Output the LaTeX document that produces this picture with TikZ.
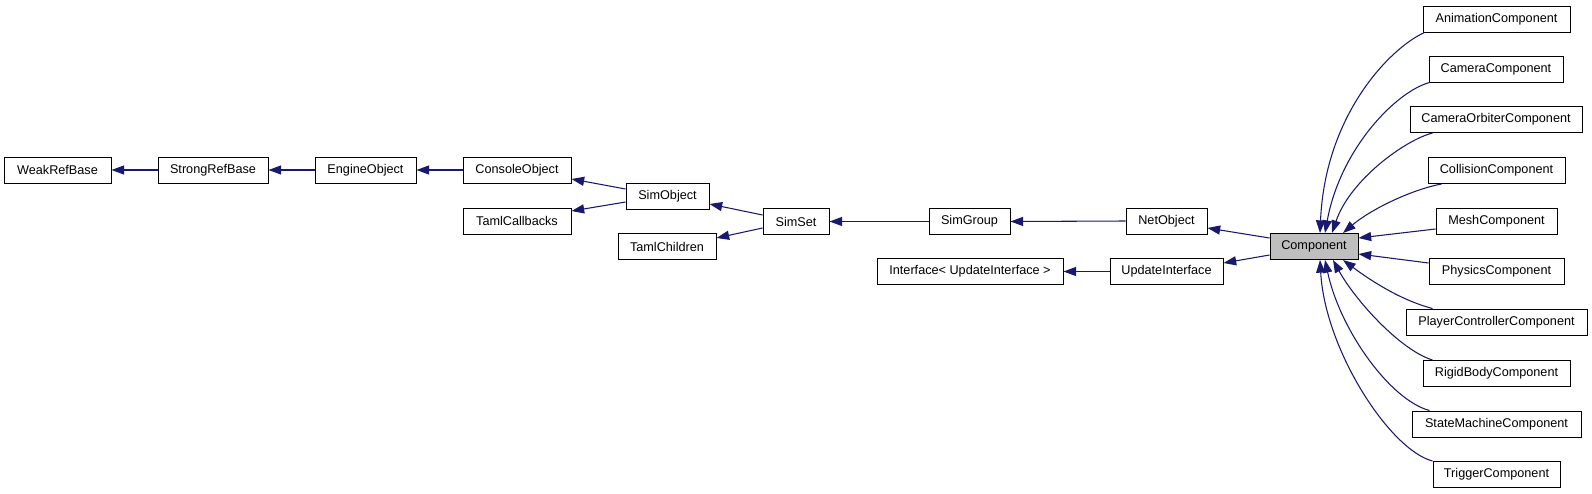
\documentclass[tikz,border=0pt]{standalone}
\usepackage{fontspec}
\setmainfont{Liberation Sans}
\usetikzlibrary{arrows.meta,calc}
\definecolor{edgeblue}{HTML}{191970}
\definecolor{compgray}{HTML}{BFBFBF}
\begin{document}
\begin{tikzpicture}[x=0.75pt,y=-0.75pt,
  cls/.style={draw=black, line width=0.75pt, fill=white, inner sep=0pt,
    minimum height=19.5pt, font=\fontsize{9.5}{11}\selectfont},
  wd/.style={minimum width=#1*0.75pt},
  inh/.style={draw=edgeblue, line width=0.8pt,
    {Triangle[length=9.5pt,width=6.8pt]}-}]
\useasboundingbox (0,0) rectangle (1592,493);

% left chain
\node[cls, wd=107] (weak)   at (57.5,170)  {WeakRefBase};
\node[cls, wd=110] (strong) at (213,170)   {StrongRefBase};
\node[cls, wd=101] (engine) at (365.5,170) {EngineObject};
\node[cls, wd=108] (console) at (517,170)  {ConsoleObject};
\node[cls, wd=108] (tamlcb) at (517,221)   {TamlCallbacks};
\node[cls, wd=83]  (simobj) at (667.5,196) {SimObject};
\node[cls, wd=98]  (tamlch) at (667,246.5) {TamlChildren};
\node[cls, wd=66]  (simset) at (796,221.5) {SimSet};
\node[cls, wd=81]  (simgroup) at (969.5,221.5) {SimGroup};
\node[cls, wd=186] (iface)  at (970,271.5) {Interface< UpdateInterface >};
\node[cls, wd=81]  (netobj) at (1166.5,221) {NetObject};
\node[cls, wd=113] (upd)    at (1166.5,271.5) {UpdateInterface};
\node[cls, wd=88, fill=compgray] (comp) at (1314,246.5) {Component};

% right column
\node[cls, wd=147] (anim)   at (1496.5,19)    {AnimationComponent};
\node[cls, wd=134] (cam)    at (1496,69)      {CameraComponent};
\node[cls, wd=172] (orb)    at (1496,119.5)   {CameraOrbiterComponent};
\node[cls, wd=137] (coll)   at (1496.5,170.5) {CollisionComponent};
\node[cls, wd=121] (mesh)   at (1496.5,221)   {MeshComponent};
\node[cls, wd=135] (phys)   at (1496.5,271.5) {PhysicsComponent};
\node[cls, wd=181] (player) at (1496.5,322)   {PlayerControllerComponent};
\node[cls, wd=147] (rigid)  at (1496.5,373.5) {RigidBodyComponent};
\node[cls, wd=169] (state)  at (1496.5,424)   {StateMachineComponent};
\node[cls, wd=127] (trig)   at (1496.5,474.5) {TriggerComponent};

% straight inheritance edges
\draw[inh] (weak.east) -- (strong.west);
\draw[inh] (strong.east) -- (engine.west);
\draw[inh] (engine.east) -- (console.west);
\draw[inh] ($(console.east)+(0,9)$) -- ($(simobj.west)+(0,-7)$);
\draw[inh] ($(tamlcb.east)+(0,-10)$) -- ($(simobj.west)+(0,6)$);
\draw[inh] ($(simobj.east)+(0,8)$) -- ($(simset.west)+(0,-6.5)$);
\draw[inh] ($(tamlch.east)+(0,-8.5)$) -- ($(simset.west)+(0,6.5)$);
\draw[inh] (simset.east) -- (simgroup.west);
\draw[inh] (simgroup.east) -- (netobj.west);
\draw[inh] (iface.east) -- (upd.west);
\draw[inh] ($(netobj.east)+(0,7)$) -- ($(comp.west)+(0,-8.5)$);
\draw[inh] ($(upd.east)+(0,-8.5)$) -- ($(comp.west)+(0,8.5)$);
\draw[inh] ($(comp.east)+(0,-8.5)$) -- ($(mesh.west)+(0,8)$);
\draw[inh] ($(comp.east)+(0,7.5)$) -- ($(phys.west)+(0,-8.5)$);

% curved edges from above
\draw[inh] ($(comp.north)+(6,0)$) .. controls (1325,115) and (1390,48) .. ($(anim.south west)+(2,0)$);
\draw[inh] ($(comp.north)+(11,0)$) .. controls (1340,150) and (1395,92) .. ($(cam.south west)+(1,0)$);
\draw[inh] ($(comp.north)+(18,0)$) .. controls (1350,180) and (1405,140) .. ($(orb.south west)+(23,0)$);
\draw[inh] ($(comp.north)+(29,0)$) .. controls (1370,210) and (1410,190) .. ($(coll.south west)+(14,0)$);

% curved edges from below
\draw[inh] ($(comp.south)+(29,0)$) .. controls (1370,280) and (1400,300) .. ($(player.north west)+(27,0)$);
\draw[inh] ($(comp.south)+(19,0)$) .. controls (1355,300) and (1400,350) .. ($(rigid.north west)+(10,0)$);
\draw[inh] ($(comp.south)+(11,0)$) .. controls (1340,330) and (1390,400) .. ($(state.north west)+(18,0)$);
\draw[inh] ($(comp.south)+(6,0)$) .. controls (1325,350) and (1390,450) .. ($(trig.north west)+(0,0)$);
\end{tikzpicture}
\end{document}
